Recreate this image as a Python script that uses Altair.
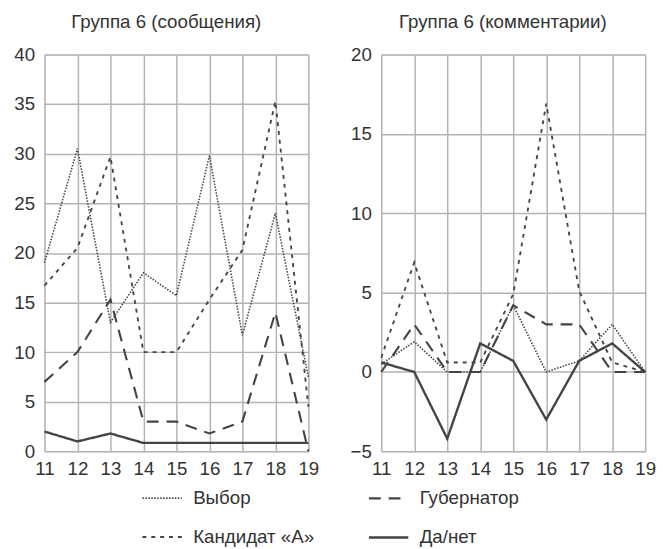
import altair as alt
import pandas as pd

x_vals = [11, 12, 13, 14, 15, 16, 17, 18, 19]
# order chosen so that the two-column legend reads:
# Выбор | Губернатор / Кандидат «А» | Да/нет
series_names = ["Выбор", "Кандидат «А»", "Губернатор", "Да/нет"]

# Группа 6 (сообщения)
msg_vybor = [19, 30.5, 13, 18, 15.7, 29.8, 11.7, 24, 7.5]
msg_kand = [16.7, 20.5, 29.7, 10, 10, 15.3, 20.3, 35.3, 4.5]
msg_gub = [7, 10, 15.3, 3, 3, 1.8, 3, 14, 0]
msg_da = [2, 1, 1.8, 0.85, 0.85, 0.85, 0.85, 0.85, 0.85]

# Группа 6 (комментарии)
com_vybor = [0.5, 1.9, 0, 0, 4.2, 0, 0.7, 3, 0]
com_kand = [0.9, 6.9, 0.6, 0.6, 4.9, 16.9, 5.1, 0.6, 0]
com_gub = [0, 3, 0, 0, 4.2, 3, 3, 0, 0]
com_da = [0.6, 0, -4.2, 1.8, 0.7, -3, 0.7, 1.8, 0]

titles = ["Группа 6 (сообщения)", "Группа 6 (комментарии)"]


def frame(values_list):
    rows = []
    for name, vals in zip(series_names, values_list):
        for x, v in zip(x_vals, vals):
            rows.append({"x": x, "y": v, "series": name})
    return pd.DataFrame(rows)


df_msg = frame([msg_vybor, msg_kand, msg_gub, msg_da])
df_com = frame([com_vybor, com_kand, com_gub, com_da])

FONT = "Liberation Sans"
LINE = "#444444"
TXT = "#333333"
FS = 19

dash_scale = alt.Scale(domain=series_names,
                       range=[[1.5, 1.5], [4, 5], [12, 8], [1, 0]])
width_scale = alt.Scale(domain=series_names, range=[1.6, 2.4, 1.8, 2.2])

legend = alt.Legend(title=None, orient="none", legendX=98, legendY=429,
                    columns=2, symbolType="stroke", symbolSize=1600,
                    symbolStrokeColor=LINE, labelFontSize=FS, labelFont=FONT,
                    labelColor=TXT, columnPadding=50, rowPadding=8,
                    labelOffset=10)


def panel(df, title, domain, ticks):
    return alt.Chart(df, title=alt.Title(title, fontSize=FS, font=FONT,
                                         fontWeight="normal", color=TXT,
                                         offset=14, frame="bounds")).mark_line(color=LINE).encode(
        x=alt.X("x:Q", scale=alt.Scale(domain=[11, 19], nice=False),
                axis=alt.Axis(values=x_vals, title=None, grid=True, ticks=False,
                              domain=False, labelFontSize=FS, labelFont=FONT,
                              labelColor=TXT, labelPadding=9,
                              labelFlush=False, gridColor="#b3b3b3",
                              gridWidth=1.5)),
        y=alt.Y("y:Q", scale=alt.Scale(domain=domain, nice=False, zero=False),
                axis=alt.Axis(values=ticks, title=None, grid=True, ticks=False,
                              domain=False, labelFontSize=FS, labelFont=FONT,
                              labelColor=TXT, labelPadding=10,
                              gridColor="#b3b3b3", gridWidth=1.5)),
        strokeDash=alt.StrokeDash("series:N", scale=dash_scale, legend=legend,
                                  sort=series_names),
        strokeWidth=alt.StrokeWidth("series:N", scale=width_scale, legend=legend,
                                    sort=series_names),
        detail="series:N",
    ).properties(width=268, height=403)


left = panel(df_msg, titles[0], [0, 40], [0, 5, 10, 15, 20, 25, 30, 35, 40])
right = panel(df_com, titles[1], [-5, 20], [-5, 0, 5, 10, 15, 20])

chart = alt.hconcat(left, right, spacing=29).properties(
    padding={"left": 5, "top": 0, "right": 0, "bottom": 0}
).configure_view(stroke=None).configure(background="white")

chart.save("out.html", embed_options={"renderer": "svg", "actions": False})
